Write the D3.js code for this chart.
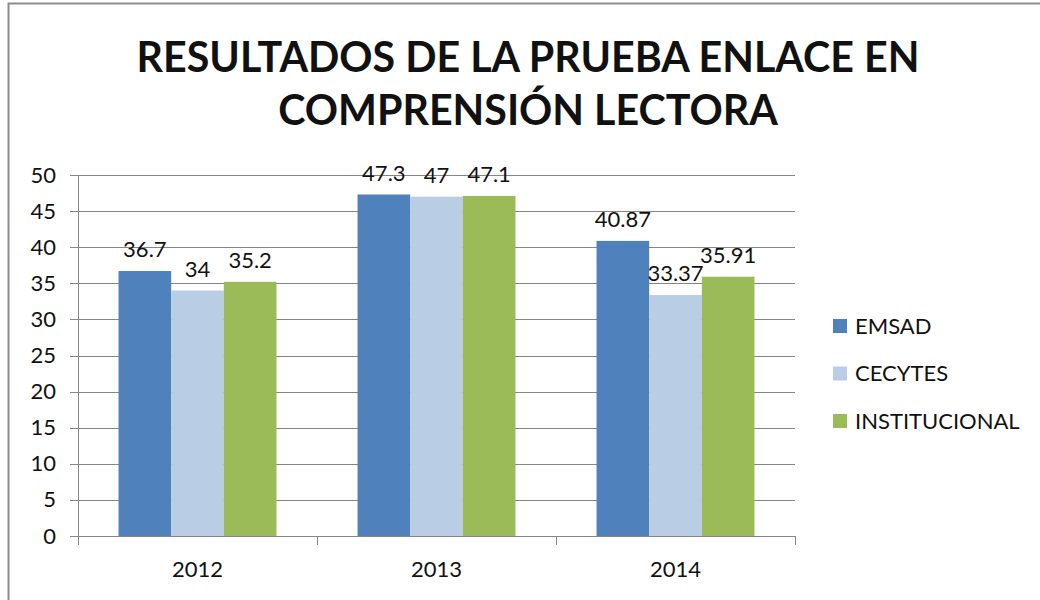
<!DOCTYPE html>
<html>
<head>
<meta charset="utf-8">
<script src="https://cdn.jsdelivr.net/npm/d3@7"></script>
<style>
  body { margin: 0; background: #fff; }
  text { font-family: Lato, "Open Sans", sans-serif; fill: #111; }
</style>
</head>
<body>
<script>
const years = ['2012', '2013', '2014']
const seriesNames = ['EMSAD', 'CECYTES', 'INSTITUCIONAL']
const emsad = [36.7, 47.3, 40.87]
const cecytes = [34, 47, 33.37]
const institucional = [35.2, 47.1, 35.91]
const yTicks = [0, 5, 10, 15, 20, 25, 30, 35, 40, 45, 50]
const colors = ['#4F81BD', '#B9CDE5', '#9BBB59']
const titleLines = ['RESULTADOS DE LA PRUEBA ENLACE EN', 'COMPRENSIÓN LECTORA']

const values = [emsad, cecytes, institucional]
const rows = years.map((yr, i) => ({ year: yr, vals: seriesNames.map((s, j) => ({ name: s, v: values[j][i], c: colors[j] })) }))

const svg = d3.select('body').append('svg').attr('width', 1040).attr('height', 600)

// chart border
svg.append('rect')
  .attr('x', 8.5).attr('y', 3.5).attr('width', 1040).attr('height', 600)
  .attr('fill', 'none').attr('stroke', '#8c8c8c').attr('stroke-width', 2)

const margin = { left: 78, top: 175 }
const width = 717, height = 361
const fs = 22

const x = d3.scaleBand().domain(years).range([0, width]).paddingInner(0).paddingOuter(0)
const x1 = d3.scaleBand().domain(seriesNames).range([0, x.bandwidth()]).paddingOuter(0.77).paddingInner(0)
const y = d3.scaleLinear().domain([0, 50]).range([height, 0])

const g = svg.append('g').attr('transform', `translate(${margin.left},${margin.top})`)

// gridlines
g.selectAll('.grid').data(yTicks).enter().append('line')
  .attr('x1', -8).attr('x2', width)
  .attr('y1', d => Math.round(y(d)) + 0.5).attr('y2', d => Math.round(y(d)) + 0.5)
  .attr('stroke', '#868686').attr('stroke-width', 1)

// bars
const groups = g.selectAll('.grp').data(rows).enter().append('g')
  .attr('transform', d => `translate(${x(d.year)},0)`)

groups.selectAll('rect').data(d => d.vals).enter().append('rect')
  .attr('x', d => x1(d.name))
  .attr('width', x1.bandwidth())
  .attr('y', d => y(d.v))
  .attr('height', d => height - y(d.v))
  .attr('fill', d => d.c)

groups.selectAll('.lbl').data(d => d.vals).enter().append('text')
  .attr('x', d => x1(d.name) + x1.bandwidth() / 2)
  .attr('y', d => y(d.v) - 14)
  .attr('text-anchor', 'middle')
  .attr('font-size', fs)
  .text(d => d.v)

// y axis
const yAxis = d3.axisLeft(y).tickValues(yTicks).tickSize(0).tickPadding(22)
g.append('g').call(yAxis)
  .call(s => s.select('.domain').remove())
  .call(s => s.selectAll('text').attr('font-size', fs).attr('fill', '#111').style('font-family', 'Lato, sans-serif'))
g.append('line').attr('x1', 0.5).attr('x2', 0.5).attr('y1', 0).attr('y2', height)
  .attr('stroke', '#868686')

// x axis
const xAxis = d3.axisBottom(x).tickSize(0).tickPadding(25)
g.append('g').attr('transform', `translate(0,${height})`).call(xAxis)
  .call(s => s.select('.domain').remove())
  .call(s => s.selectAll('text').attr('font-size', fs).attr('fill', '#111').style('font-family', 'Lato, sans-serif'))
g.append('line').attr('x1', 0).attr('x2', width).attr('y1', height + 0.5).attr('y2', height + 0.5)
  .attr('stroke', '#868686')
g.selectAll('.xt').data(years.concat(['end'])).enter().append('line')
  .attr('x1', (d, i) => Math.round(i * x.bandwidth()) + 0.5)
  .attr('x2', (d, i) => Math.round(i * x.bandwidth()) + 0.5)
  .attr('y1', height).attr('y2', height + 9)
  .attr('stroke', '#868686')

// title
const title = svg.append('g')
titleLines.forEach((t, i) => {
  const el = title.append('text')
    .attr('x', 528).attr('y', 72 + i * 53)
    .attr('text-anchor', 'middle')
    .attr('font-size', 40).attr('font-weight', 'bold')
    .text(t)
  if (i === 0) {
    const w = el.node().getComputedTextLength()
    title.attr('data-scale', 783 / w)
  }
})
const sc = +title.attr('data-scale')
title.selectAll('text').attr('font-size', 40 * sc)

// legend
const legend = svg.append('g').attr('transform', 'translate(833,319)')
const li = legend.selectAll('g').data(seriesNames).enter().append('g')
  .attr('transform', (d, i) => `translate(0,${i * 47.5})`)
li.append('rect').attr('width', 14).attr('height', 14).attr('fill', (d, i) => colors[i])
li.append('text').attr('x', 22).attr('y', 7).attr('dy', '0.35em').attr('font-size', fs).text(d => d)
</script>
</body>
</html>
